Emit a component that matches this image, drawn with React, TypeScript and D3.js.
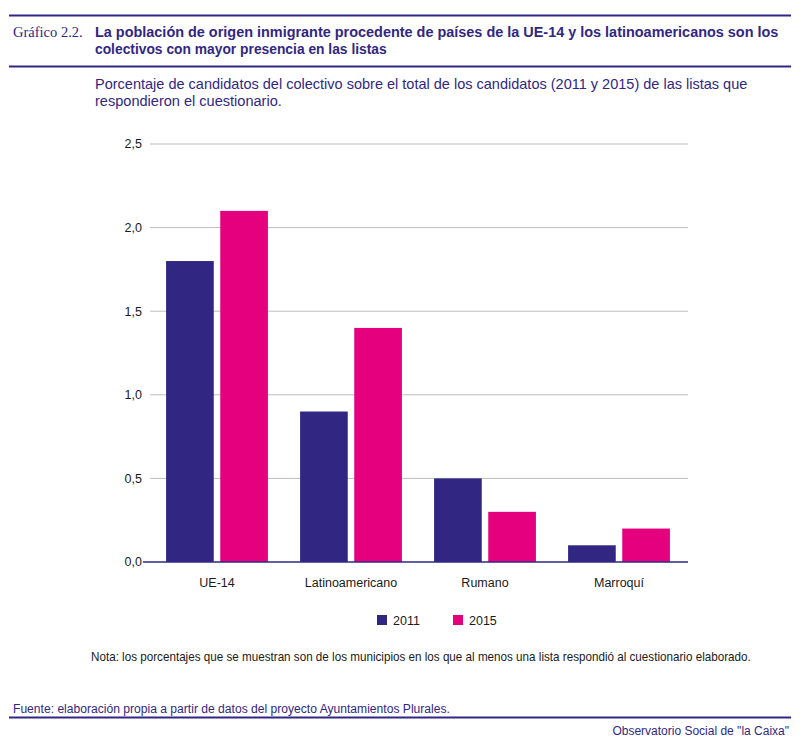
import { useMemo, useLayoutEffect, useRef, useState } from 'react';
import * as d3 from 'd3';

const categories = ['UE-14', 'Latinoamericano', 'Rumano', 'Marroquí'];
const series = ['2011', '2015'];
const values2011 = [1.8, 0.9, 0.5, 0.1];
const values2015 = [2.1, 1.4, 0.3, 0.2];
const yTicks = [0, 0.5, 1, 1.5, 2, 2.5];

const PURPLE = '#312783';
const MAGENTA = '#e5007e';
const SANS = '"Liberation Sans", Arial, sans-serif';

// text squeezed horizontally to a given width (the original uses a condensed face)
function FitText({ x, y, width, children, ...rest }: any) {
  const ref = useRef<SVGTextElement>(null);
  const [k, setK] = useState(1);
  useLayoutEffect(() => {
    if (!ref.current) return;
    const w = ref.current.getComputedTextLength();
    if (w > 0) setK(width / w);
  }, [width, children]);
  return (
    <text ref={ref} transform={`translate(${x},${y}) scale(${k},1)`} {...rest}>{children}</text>
  );
}

export default function App() {
  const width = 800;
  const height = 744;
  const margin = { top: 144, left: 150, right: 114, bottom: 182 };
  const innerW = width - margin.left - margin.right;
  const innerH = height - margin.top - margin.bottom;

  const x0 = useMemo(() => d3.scaleBand<string>().domain(categories).range([0, innerW]).paddingInner(0.24).paddingOuter(0.12), [innerW]);
  const x1 = useMemo(() => d3.scaleBand<string>().domain(series).range([0, x0.bandwidth()]).paddingInner(0.12), [x0]);
  const y = useMemo(() => d3.scaleLinear().domain([0, 2.5]).range([innerH, 0]), [innerH]);
  const color = d3.scaleOrdinal<string, string>().domain(series).range([PURPLE, MAGENTA]);
  const fmt = (v: number) => d3.format('.1f')(v).replace('.', ',');

  const rows = categories.map((c, i) => ({ cat: c, vals: [values2011[i], values2015[i]] }));

  return (
    <svg width={width} height={height} style={{ position: 'absolute', left: 0, top: 0, background: '#fff' }} fontFamily={SANS}>
      {/* header */}
      <line x1={9} x2={791} y1={15.5} y2={15.5} stroke={PURPLE} strokeWidth={2} />
      <text x={13} y={37} fontFamily='"Liberation Serif", serif' fontSize={14.5} fill={PURPLE}>Gráfico 2.2.</text>
      <FitText x={95} y={36.5} width={684} fontSize={15.5} fontWeight="bold" fill={PURPLE}>
        La población de origen inmigrante procedente de países de la UE-14 y los latinoamericanos son los
      </FitText>
      <FitText x={95} y={53.5} width={292} fontSize={15.5} fontWeight="bold" fill={PURPLE}>
        colectivos con mayor presencia en las listas
      </FitText>
      <line x1={9} x2={791} y1={66.5} y2={66.5} stroke={PURPLE} strokeWidth={2} />
      <FitText x={95} y={89} width={653} fontSize={14} fill={PURPLE}>
        Porcentaje de candidatos del colectivo sobre el total de los candidatos (2011 y 2015) de las listas que
      </FitText>
      <FitText x={95} y={106} width={187} fontSize={14} fill={PURPLE}>
        respondieron el cuestionario.
      </FitText>

      <g transform={`translate(${margin.left},${margin.top})`}>
        {yTicks.map(t => (
          <g key={t} transform={`translate(0,${y(t)})`}>
            {t > 0 && <line x1={0} x2={innerW + 2} stroke="#bdbdbd" strokeWidth={1} />}
            <text x={-8} dy="0.35em" textAnchor="end" fontSize={12.5} fill="#1a1a1a">{fmt(t)}</text>
          </g>
        ))}
        {rows.map(r => (
          <g key={r.cat} transform={`translate(${x0(r.cat)},0)`}>
            {series.map((s, j) => (
              <rect key={s} x={x1(s)} y={y(r.vals[j])} width={x1.bandwidth()} height={innerH - y(r.vals[j])} fill={color(s)} />
            ))}
            <text x={x0.bandwidth() / 2} y={innerH + 25} textAnchor="middle" fontSize={12.5} fill="#1a1a1a">{r.cat}</text>
          </g>
        ))}
        <line x1={-7} x2={innerW + 2} y1={innerH} y2={innerH} stroke={PURPLE} strokeWidth={1.5} />
      </g>

      {/* legend */}
      {series.map((s, i) => (
        <g key={s} transform={`translate(${377 + i * 76},615)`}>
          <rect width={10} height={10} fill={color(s)} />
          <text x={16} y={9.5} fontSize={12.5} fill="#1a1a1a">{s}</text>
        </g>
      ))}

      <FitText x={91} y={661} width={660} fontSize={12} fill="#1a1a1a">
        Nota: los porcentajes que se muestran son de los municipios en los que al menos una lista respondió al cuestionario elaborado.
      </FitText>
      <FitText x={13} y={713} width={437} fontSize={12} fill={PURPLE}>
        Fuente: elaboración propia a partir de datos del proyecto Ayuntamientos Plurales.
      </FitText>
      <line x1={9} x2={791} y1={717.5} y2={717.5} stroke={PURPLE} strokeWidth={2} />
      <text x={789} y={735} fontSize={12} fill={PURPLE} textAnchor="end">Observatorio Social de "la Caixa"</text>
    </svg>
  );
}
